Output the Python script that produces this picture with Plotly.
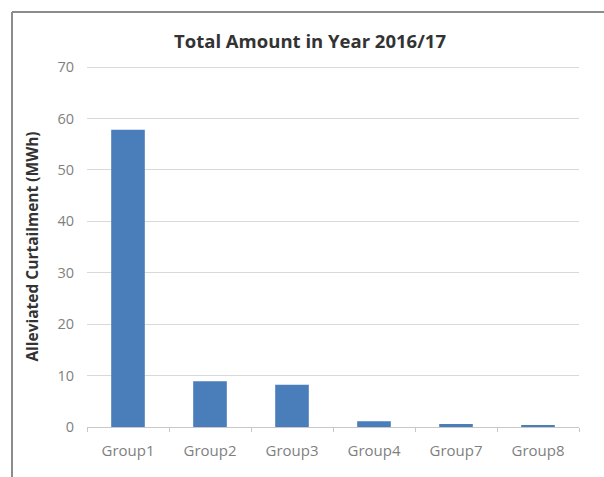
import plotly.graph_objects as go

categories = ["Group1", "Group2", "Group3", "Group4", "Group7", "Group8"]
curtailment_mwh = [57.8, 8.9, 8.2, 1.1, 0.6, 0.35]
y_ticks = [0, 10, 20, 30, 40, 50, 60, 70]

W, H = 604, 477
ML, MR, MT, MB = 87, 25, 66, 50
pw, ph = W - ML - MR, H - MT - MB


def px_to_paper_x(px):
    return (px - ML) / pw


def px_to_paper_y(py):
    return (H - MB - py) / ph


fig = go.Figure(
    go.Bar(
        x=categories,
        y=curtailment_mwh,
        marker=dict(color="#4a7ebb", line=dict(width=0)),
        width=0.41,
    )
)

font_family = "'Open Sans', Lato, sans-serif"

fig.update_layout(
    width=W,
    height=H,
    margin=dict(l=ML, r=MR, t=MT, b=MB),
    paper_bgcolor="white",
    plot_bgcolor="white",
    showlegend=False,
    title=dict(
        text="<b>Total Amount in Year 2016/17</b>",
        x=310 / W,
        xanchor="center",
        y=1 - 42 / H,
        yanchor="middle",
        font=dict(family=font_family, size=18.5, color="#333333"),
    ),
    font=dict(family=font_family),
)

fig.update_yaxes(
    range=[0, 70.2],
    tickvals=y_ticks,
    showgrid=True,
    gridcolor="#d9d9d9",
    gridwidth=1,
    zeroline=False,
    showline=False,
    ticks="",
    ticklabelstandoff=12,
    tickfont=dict(size=14.5, color="#7f7f7f"),
    title=dict(
        text="<b>Alleviated Curtailment (MWh)</b>",
        font=dict(size=15.5, color="#333333"),
        standoff=14,
    ),
)

fig.update_xaxes(
    showline=True,
    linecolor="#c8c8c8",
    linewidth=1,
    ticks="outside",
    tickson="boundaries",
    ticklen=4,
    tickcolor="#c8c8c8",
    ticklabelstandoff=10,
    tickfont=dict(size=15, color="#7f7f7f"),
    showgrid=False,
)

# Outer chart frame: left and top edges
fig.add_shape(
    type="line", xref="paper", yref="paper",
    x0=px_to_paper_x(12), x1=px_to_paper_x(12),
    y0=px_to_paper_y(12), y1=px_to_paper_y(H + 5),
    line=dict(color="#8c8c8c", width=2),
)
fig.add_shape(
    type="line", xref="paper", yref="paper",
    x0=px_to_paper_x(12), x1=px_to_paper_x(W + 5),
    y0=px_to_paper_y(12), y1=px_to_paper_y(12),
    line=dict(color="#8c8c8c", width=2),
)

fig.write_html("out.html")
